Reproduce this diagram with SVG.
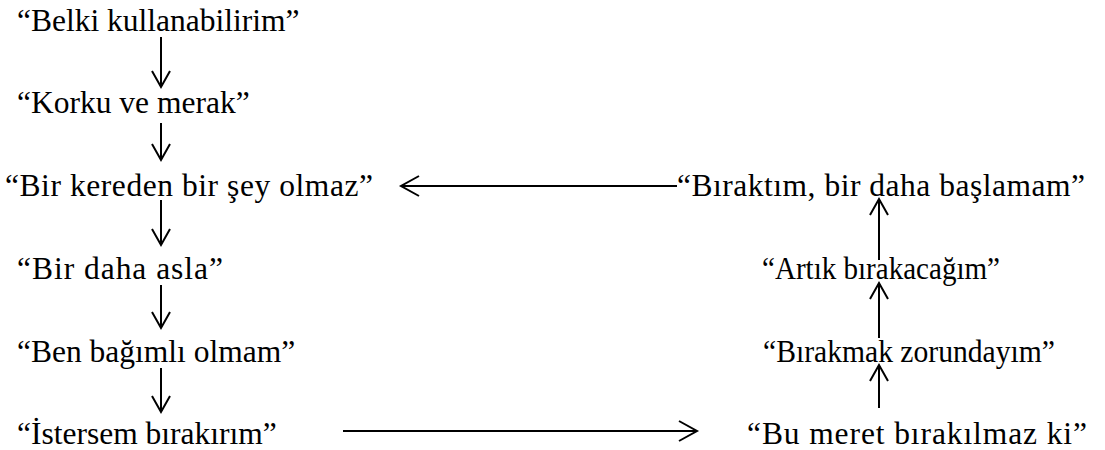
<svg xmlns="http://www.w3.org/2000/svg" width="1105" height="450" viewBox="0 0 1105 450">
<style>
text{font-family:"Liberation Serif","Times New Roman",serif;font-size:31.5px;fill:#000}
.c line,.c path{stroke:#000;stroke-width:2;fill:none}
</style>
<rect width="1105" height="450" fill="#fff"/>
<g id="n1"><text x="17" y="31">“Belki kullanabilirim”</text></g>
<g id="n2"><text x="17" y="113">“Korku ve merak”</text></g>
<g id="n3"><text x="5" y="196" textLength="368" lengthAdjust="spacing">“Bir kereden bir şey olmaz”</text></g>
<g id="n4"><text x="17" y="279" textLength="206" lengthAdjust="spacing">“Bir daha asla”</text></g>
<g id="n5"><text x="17" y="362">“Ben bağımlı olmam”</text></g>
<g id="n6"><text x="17" y="444">“İstersem bırakırım”</text></g>
<g id="n7"><text x="677" y="196" textLength="408" lengthAdjust="spacing">“Bıraktım, bir daha başlamam”</text></g>
<g id="n8"><text x="762" y="279" textLength="238" lengthAdjust="spacingAndGlyphs">“Artık bırakacağım”</text></g>
<g id="n9"><text x="763" y="362" textLength="292" lengthAdjust="spacingAndGlyphs">“Bırakmak zorundayım”</text></g>
<g id="n10"><text x="747" y="444" textLength="340" lengthAdjust="spacing">“Bu meret bırakılmaz ki”</text></g>
<g class="c" id="connectors">
<line x1="161" y1="37" x2="161" y2="87"/><path d="M152,71 L161,87 L170,71"/>
<line x1="161" y1="123" x2="161" y2="160"/><path d="M152,144 L161,160 L170,144"/>
<line x1="161" y1="200" x2="161" y2="245"/><path d="M152,229 L161,245 L170,229"/>
<line x1="161" y1="285" x2="161" y2="328"/><path d="M152,312 L161,328 L170,312"/>
<line x1="161" y1="368" x2="161" y2="412"/><path d="M152,396 L161,412 L170,396"/>
<line x1="677" y1="186" x2="401" y2="186"/><path d="M419,176 L401,186 L419,196"/>
<line x1="343" y1="431" x2="697" y2="431"/><path d="M679,421 L697,431 L679,441"/>
<line x1="879" y1="408" x2="879" y2="365"/><path d="M870,381 L879,365 L888,381"/>
<line x1="879" y1="338" x2="879" y2="283"/><path d="M870,299 L879,283 L888,299"/>
<line x1="879" y1="260" x2="879" y2="199"/><path d="M870,215 L879,199 L888,215"/>
</g>
</svg>
